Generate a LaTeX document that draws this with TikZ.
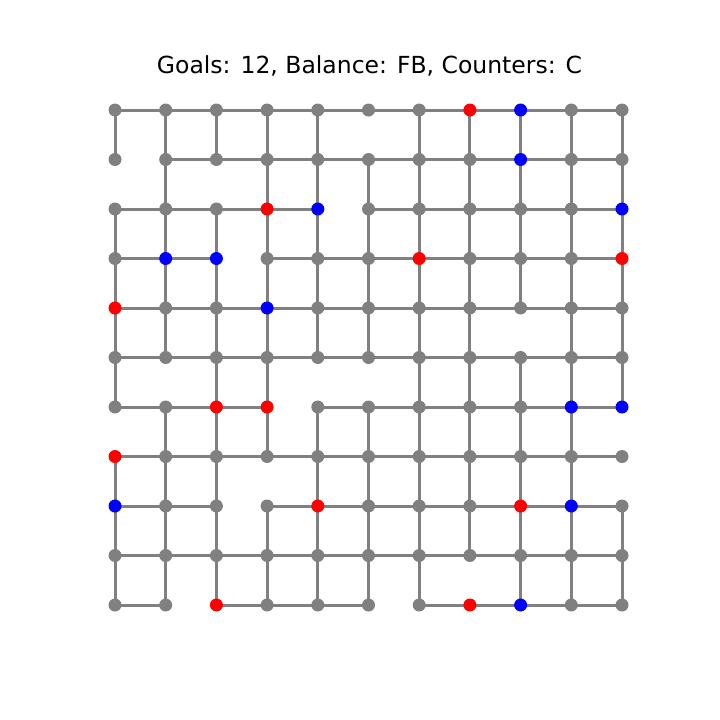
\documentclass[tikz,border=0pt]{standalone}
\usepackage{fontspec}
\setmainfont{DejaVu Sans}
\usepackage{xcolor}
\definecolor{edgegray}{HTML}{808080}
\usetikzlibrary{backgrounds}
\tikzset{
  gdot/.style ={circle, fill=edgegray, draw=none, inner sep=0pt, minimum size=13pt},
  rdot/.style ={gdot, fill=red},
  bdot/.style ={gdot, fill=blue},
  link/.style ={draw=edgegray, line width=3pt},
  ttl/.style  ={font=\fontsize{23.5}{28}\selectfont, inner sep=0pt},
}

\begin{document}
\begin{tikzpicture}[x=1pt, y=-1pt]
  \useasboundingbox (0,0) rectangle (720,720);
  \node[ttl] (title) at (369.5,66) {Goals: 12, Balance: FB, Counters: C};
  % dots, one row of the grid per line (g gray, r red, b blue)
  \foreach \r/\cols in {
      0/{g,g,g,g,g,g,g,r,b,g,g},
      1/{g,g,g,g,g,g,g,g,b,g,g},
      2/{g,g,g,r,b,g,g,g,g,g,b},
      3/{g,b,b,g,g,g,r,g,g,g,r},
      4/{r,g,g,b,g,g,g,g,g,g,g},
      5/{g,g,g,g,g,g,g,g,g,g,g},
      6/{g,g,r,r,g,g,g,g,g,b,b},
      7/{r,g,g,g,g,g,g,g,g,g,g},
      8/{b,g,g,g,r,g,g,g,r,b,g},
      9/{g,g,g,g,g,g,g,g,g,g,g},
      10/{g,g,r,g,g,g,g,r,b,g,g}}{
    \foreach \k [count=\c from 0] in \cols
      \node[\k dot] (n\r-\c) at ({115+50.7*\c},{110+49.5*\r}) {};
  }
  \begin{scope}[on background layer]
    % horizontal links: column c to c+1
    \foreach \r/\cols in {
        0/{0,1,...,9},
        1/{1,2,...,9},
        2/{0,1,2,3,5,6,7,8,9},
        3/{0,1,3,4,5,6,7,8,9},
        4/{0,1,...,9},
        5/{0,1,...,9},
        6/{0,1,2,4,5,6,7,8,9},
        7/{0,1,...,9},
        8/{0,1,3,4,5,6,7,8,9},
        9/{0,1,...,9},
        10/{0,2,3,4,6,7,8,9}}{
      \foreach \c in \cols {
        \pgfmathtruncatemacro\d{\c+1}
        \draw[link] (n\r-\c.center) -- (n\r-\d.center);
      }
    }
    % vertical links: row r to r+1
    \foreach \r/\cols in {
        0/{0,1,2,3,4,6,7,8,9,10},
        1/{1,3,4,5,6,7,8,9,10},
        2/{0,1,...,10},
        3/{0,1,...,10},
        4/{0,1,2,3,4,5,6,7,9,10},
        5/{0,2,3,6,7,8,9,10},
        6/{1,2,3,4,5,6,7,8,9},
        7/{0,1,2,4,5,6,7,8,9},
        8/{0,1,...,10},
        9/{0,1,2,3,4,5,6,8,9,10}}{
      \foreach \c in \cols {
        \pgfmathtruncatemacro\s{\r+1}
        \draw[link] (n\r-\c.center) -- (n\s-\c.center);
      }
    }
  \end{scope}
\end{tikzpicture}
\end{document}
